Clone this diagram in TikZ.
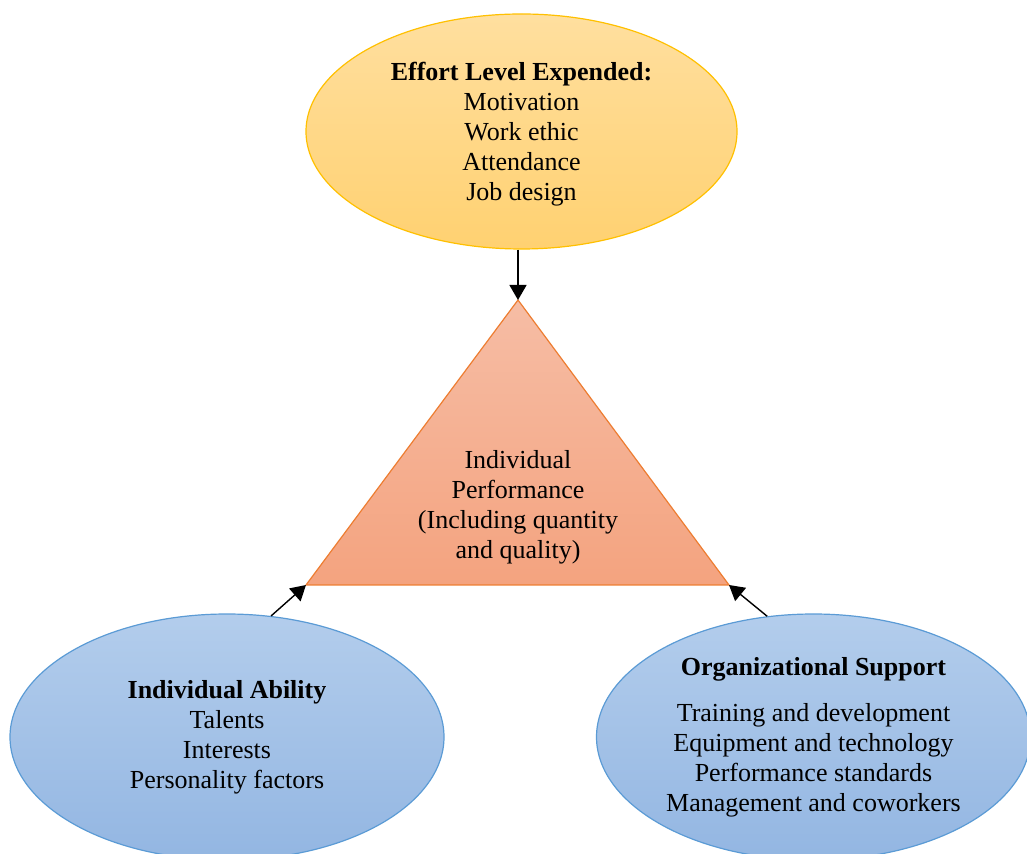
\documentclass[tikz,border=0pt]{standalone}
\usepackage{fontspec}
\setmainfont{Liberation Serif}
\usepackage{xcolor}
\usetikzlibrary{shapes.geometric,arrows.meta}

\definecolor{giallosu}{HTML}{FFDF9F}
\definecolor{giallogiu}{HTML}{FFD171}
\definecolor{giallobordo}{HTML}{FFC000}
\definecolor{salmonesu}{HTML}{F6BDA5}
\definecolor{salmonegiu}{HTML}{F4A37F}
\definecolor{arancio}{HTML}{ED7D31}
\definecolor{blusu}{HTML}{B3CDEC}
\definecolor{blugiu}{HTML}{93B6E2}
\definecolor{blubordo}{HTML}{5B9BD5}

\begin{document}
\begin{tikzpicture}[x=0.5pt,y=-0.5pt,
    testo/.style={align=center, font=\fontsize{13pt}{15pt}\selectfont},
    ovale/.style={ellipse, testo, inner sep=0pt, line width=0.6pt},
    ovaleblu/.style={ovale, draw=blubordo, top color=blusu, bottom color=blugiu,
        minimum width=217pt, minimum height=123pt},
    freccia/.style={-{Triangle[length=7.5pt,width=8.5pt]}, line width=0.7pt}]

                % Area
                \clip (0,0) rectangle (1027,854);

                % Triangolo
                \coordinate (apice) at (518,300);
                \coordinate (sx) at (306,585);
                \coordinate (dx) at (729,585);
                \draw[draw=arancio, line width=0.6pt, top color=salmonesu, bottom color=salmonegiu]
                    (apice) -- (dx) -- (sx) -- cycle;
                \node[testo] (prest) at (518,507.5) {Individual\\Performance\\(Including quantity\\and quality)};

                % Ovali
                \node[ovale, draw=giallobordo, top color=giallosu, bottom color=giallogiu,
                    minimum width=215.5pt, minimum height=117.5pt] (sforzo) at (521.5,131.5)
                    {\rule{0pt}{12pt}\textbf{Effort Level Expended:}\\Motivation\\Work ethic\\Attendance\\Job design};
                \node[ovaleblu] (abilita) at (227,737)
                    {\textbf{Individual Ability}\\Talents\\Interests\\Personality factors};
                \node[ovaleblu] (supporto) at (813.5,737)
                    {\textbf{Organizational Support}\\[8pt]Training and development\\Equipment and technology\\Performance standards\\Management and coworkers};

                % Frecce
                \draw[freccia] (sforzo.south -| apice) -- (apice);
                \draw[freccia] (abilita.70) -- (sx);
                \draw[freccia] (supporto.111) -- (dx);

\end{tikzpicture}
\end{document}
